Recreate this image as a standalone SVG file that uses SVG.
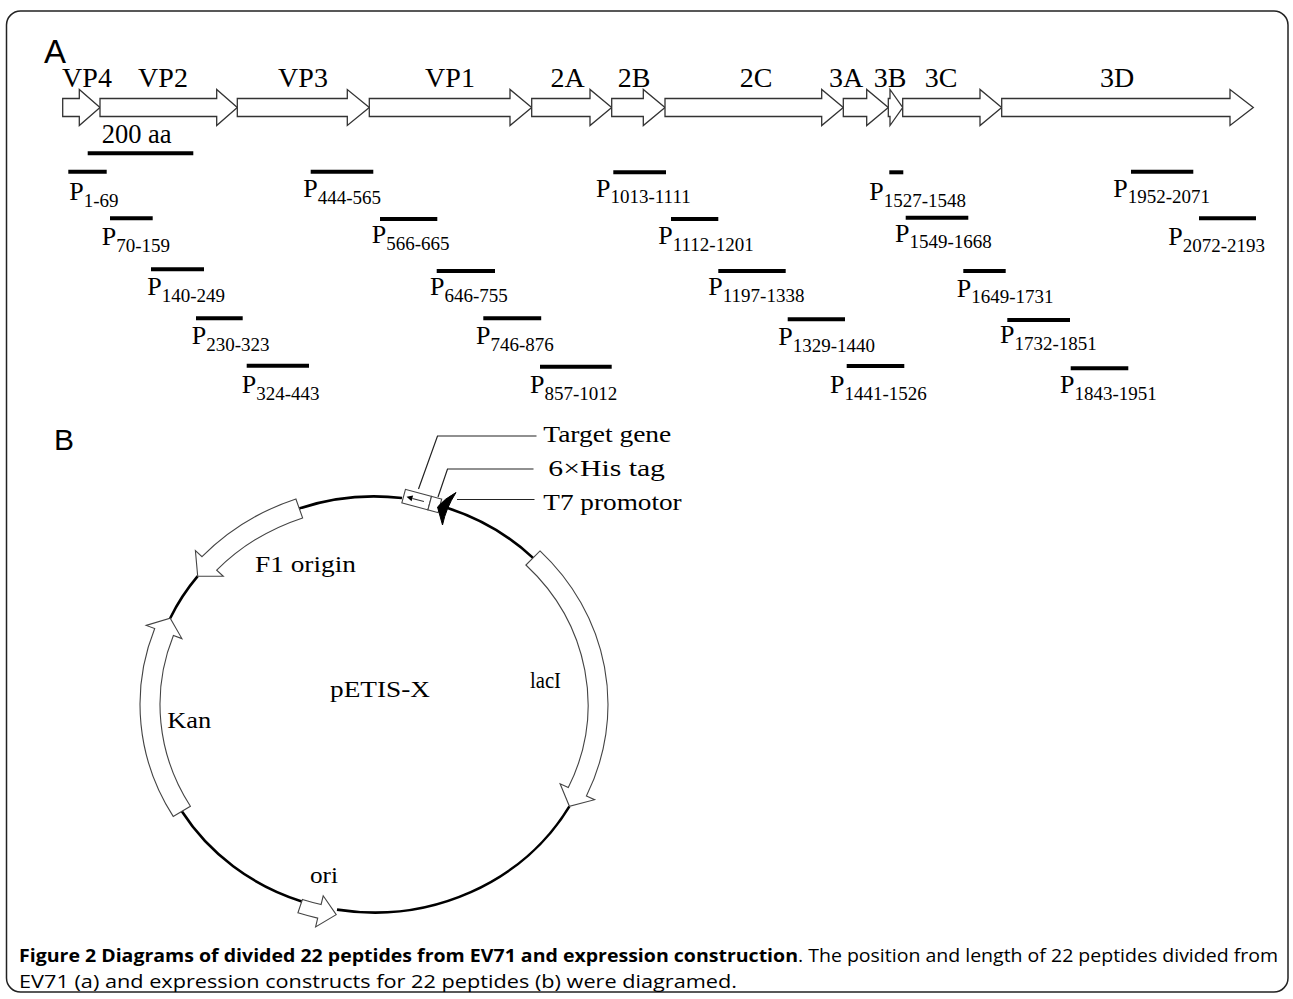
<svg xmlns="http://www.w3.org/2000/svg" width="1293" height="999" viewBox="0 0 1293 999">
<style>
.bg{fill:#fff}
.frame{fill:none;stroke:#222;stroke-width:1.5}
.gene{fill:#fff;stroke:#333;stroke-width:1.3;stroke-linejoin:miter}
.feat{fill:#fff;stroke:#444;stroke-width:1.1;stroke-linejoin:miter}
.bb{fill:none;stroke:#000;stroke-width:2.6}
.pep{stroke:#000;stroke-width:4}
.lead{fill:none;stroke:#222;stroke-width:1.2}
.t{font-family:"Liberation Serif","Times New Roman",serif;fill:#000}
.glbl{font-size:28px;text-anchor:middle}
.pl{font-size:26px}
.sub{font-size:19px}
.ml{font-size:24px}
.panel{font-family:"Liberation Sans",Arial,sans-serif;fill:#000}
.cap{font-family:"Open Sans","Liberation Sans",sans-serif;font-size:17.5px;fill:#000}
</style>
<rect class="bg" x="0" y="0" width="1293" height="999"/>
<rect class="frame" x="6.5" y="11" width="1281.5" height="981" rx="14"/>

<text class="panel" x="44" y="63" font-size="33">A</text>
<text class="panel" x="54" y="450" font-size="30">B</text>

<!-- Panel A: polyprotein -->
<g id="gene-VP4"><polygon class="gene" points="62.7,98.5 79.3,98.5 79.3,89.5 100,107.5 79.3,125.5 79.3,116.5 62.7,116.5"/><text class="t glbl" x="87" y="87">VP4</text></g>
<g id="gene-VP2"><polygon class="gene" points="100,98.5 216.7,98.5 216.7,89.5 237.3,107.5 216.7,125.5 216.7,116.5 100,116.5"/><text class="t glbl" x="163" y="87">VP2</text></g>
<g id="gene-VP3"><polygon class="gene" points="237.3,98.5 347.3,98.5 347.3,89.5 369.3,107.5 347.3,125.5 347.3,116.5 237.3,116.5"/><text class="t glbl" x="303" y="87">VP3</text></g>
<g id="gene-VP1"><polygon class="gene" points="369.3,98.5 510,98.5 510,89.5 531.7,107.5 510,125.5 510,116.5 369.3,116.5"/><text class="t glbl" x="450" y="87">VP1</text></g>
<g id="gene-2A"><polygon class="gene" points="531.7,98.5 590,98.5 590,89.5 611.7,107.5 590,125.5 590,116.5 531.7,116.5"/><text class="t glbl" x="567.5" y="87">2A</text></g>
<g id="gene-2B"><polygon class="gene" points="611.7,98.5 643.3,98.5 643.3,89.5 665,107.5 643.3,125.5 643.3,116.5 611.7,116.5"/><text class="t glbl" x="634" y="87">2B</text></g>
<g id="gene-2C"><polygon class="gene" points="665,98.5 821.7,98.5 821.7,89.5 843.3,107.5 821.7,125.5 821.7,116.5 665,116.5"/><text class="t glbl" x="756" y="87">2C</text></g>
<g id="gene-3A"><polygon class="gene" points="843.3,98.5 866.7,98.5 866.7,89.5 888.3,107.5 866.7,125.5 866.7,116.5 843.3,116.5"/><text class="t glbl" x="846" y="87">3A</text></g>
<g id="gene-3B"><polygon class="gene" points="888.3,98.5 890,98.5 890,89.5 902.7,107.5 890,125.5 890,116.5 888.3,116.5"/><text class="t glbl" x="890" y="87">3B</text></g>
<g id="gene-3C"><polygon class="gene" points="902.7,98.5 980,98.5 980,89.5 1001.7,107.5 980,125.5 980,116.5 902.7,116.5"/><text class="t glbl" x="941" y="87">3C</text></g>
<g id="gene-3D"><polygon class="gene" points="1001.7,98.5 1230,98.5 1230,89.5 1253.3,107.5 1230,125.5 1230,116.5 1001.7,116.5"/><text class="t glbl" x="1117" y="87">3D</text></g>

<g id="scale-bar"><text class="t" x="101.7" y="143.3" font-size="26.5">200 aa</text><line class="pep" x1="87.7" y1="153.3" x2="193.3" y2="153.3"/></g>

<!-- Peptides -->
<g id="pep-1"><line class="pep" x1="68.3" y1="171.7" x2="106.7" y2="171.7"/><text class="t pl" x="69.3" y="200">P<tspan class="sub" dy="6.5">1-69</tspan></text></g>
<g id="pep-2"><line class="pep" x1="110" y1="218.3" x2="152.7" y2="218.3"/><text class="t pl" x="101.7" y="245">P<tspan class="sub" dy="6.5">70-159</tspan></text></g>
<g id="pep-3"><line class="pep" x1="151" y1="269.3" x2="204" y2="269.3"/><text class="t pl" x="147.3" y="295">P<tspan class="sub" dy="6.5">140-249</tspan></text></g>
<g id="pep-4"><line class="pep" x1="196" y1="318.3" x2="242.7" y2="318.3"/><text class="t pl" x="191.7" y="344">P<tspan class="sub" dy="6.5">230-323</tspan></text></g>
<g id="pep-5"><line class="pep" x1="246.7" y1="365.7" x2="309" y2="365.7"/><text class="t pl" x="241.7" y="393.3">P<tspan class="sub" dy="6.5">324-443</tspan></text></g>
<g id="pep-6"><line class="pep" x1="310.7" y1="171.7" x2="373.3" y2="171.7"/><text class="t pl" x="303.3" y="197.3">P<tspan class="sub" dy="6.5">444-565</tspan></text></g>
<g id="pep-7"><line class="pep" x1="380" y1="219" x2="437.3" y2="219"/><text class="t pl" x="371.7" y="243.3">P<tspan class="sub" dy="6.5">566-665</tspan></text></g>
<g id="pep-8"><line class="pep" x1="436.7" y1="271" x2="495" y2="271"/><text class="t pl" x="430" y="295">P<tspan class="sub" dy="6.5">646-755</tspan></text></g>
<g id="pep-9"><line class="pep" x1="483.3" y1="318.3" x2="541.2" y2="318.3"/><text class="t pl" x="476" y="344">P<tspan class="sub" dy="6.5">746-876</tspan></text></g>
<g id="pep-10"><line class="pep" x1="540" y1="366.7" x2="611.7" y2="366.7"/><text class="t pl" x="530" y="393">P<tspan class="sub" dy="6.5">857-1012</tspan></text></g>
<g id="pep-11"><line class="pep" x1="613.3" y1="172.3" x2="666" y2="172.3"/><text class="t pl" x="596" y="196.7">P<tspan class="sub" dy="6.5">1013-1111</tspan></text></g>
<g id="pep-12"><line class="pep" x1="671" y1="219" x2="718.3" y2="219"/><text class="t pl" x="658.3" y="244">P<tspan class="sub" dy="6.5">1112-1201</tspan></text></g>
<g id="pep-13"><line class="pep" x1="718.3" y1="271" x2="785.7" y2="271"/><text class="t pl" x="708.3" y="295">P<tspan class="sub" dy="6.5">1197-1338</tspan></text></g>
<g id="pep-14"><line class="pep" x1="787.7" y1="319.3" x2="845" y2="319.3"/><text class="t pl" x="778.3" y="345">P<tspan class="sub" dy="6.5">1329-1440</tspan></text></g>
<g id="pep-15"><line class="pep" x1="846.7" y1="366" x2="904.3" y2="366"/><text class="t pl" x="830" y="393.3">P<tspan class="sub" dy="6.5">1441-1526</tspan></text></g>
<g id="pep-16"><line class="pep" x1="889.3" y1="172.3" x2="903.3" y2="172.3"/><text class="t pl" x="869.3" y="200">P<tspan class="sub" dy="6.5">1527-1548</tspan></text></g>
<g id="pep-17"><line class="pep" x1="905.7" y1="217.7" x2="968.3" y2="217.7"/><text class="t pl" x="895" y="241.7">P<tspan class="sub" dy="6.5">1549-1668</tspan></text></g>
<g id="pep-18"><line class="pep" x1="963.3" y1="271" x2="1005.7" y2="271"/><text class="t pl" x="956.7" y="296.7">P<tspan class="sub" dy="6.5">1649-1731</tspan></text></g>
<g id="pep-19"><line class="pep" x1="1007.3" y1="320" x2="1070" y2="320"/><text class="t pl" x="1000" y="343">P<tspan class="sub" dy="6.5">1732-1851</tspan></text></g>
<g id="pep-20"><line class="pep" x1="1070.7" y1="368.3" x2="1128.3" y2="368.3"/><text class="t pl" x="1060" y="393.3">P<tspan class="sub" dy="6.5">1843-1951</tspan></text></g>
<g id="pep-21"><line class="pep" x1="1131" y1="171.7" x2="1193.3" y2="171.7"/><text class="t pl" x="1113.3" y="196.7">P<tspan class="sub" dy="6.5">1952-2071</tspan></text></g>
<g id="pep-22"><line class="pep" x1="1199" y1="218.3" x2="1256" y2="218.3"/><text class="t pl" x="1168.3" y="245">P<tspan class="sub" dy="6.5">2072-2193</tspan></text></g>

<!-- Panel B: plasmid -->
<g id="backbone">
<path class="bb" d="M299.2,508.4 A224,208 0 0 1 402,498"/>
<path class="bb" d="M446.9,507.8 A224,208 0 0 1 533,557.9"/>
<path class="bb" d="M569.4,806.3 A224,208 0 0 1 337,909.6"/>
<path class="bb" d="M301.8,901.4 A224,208 0 0 1 181.8,811.3"/>
<path class="bb" d="M170.2,618.2 A224,208 0 0 1 197.7,576.2"/>
</g>
<g id="F1-origin"><path class="feat" d="M295.9,499 A234,218 0 0 0 202,556.7 L195.4,550.6 L197.7,576.2 L223.3,576.3 L216.7,570.2 A214,198 0 0 1 302.6,517.9 Z"/><text class="t ml" x="255" y="572.3" textLength="101" lengthAdjust="spacingAndGlyphs">F1 origin</text></g>
<g id="Kan"><path class="feat" d="M173.2,816.4 A234,218 0 0 1 154.7,628.5 L146.2,625.4 L170.2,618.2 L181.9,638.6 L173.4,635.5 A214,198 0 0 0 190.4,806.2 Z"/><text class="t ml" x="167.3" y="728.3" textLength="44" lengthAdjust="spacingAndGlyphs">Kan</text></g>
<g id="lacI"><path class="feat" d="M540,550.9 A234,218 0 0 1 586.4,796 L594.6,799.7 L569.4,806.3 L560.1,783.8 L568.3,787.6 A214,198 0 0 0 525.9,565 Z"/><text class="t ml" x="530" y="688.3" textLength="31" lengthAdjust="spacingAndGlyphs">lacI</text></g>
<g id="ori"><path class="feat" d="M297.9,912.8 A236,220 0 0 0 317.7,918.1 L315.6,926.9 L336.2,914.6 L323.2,895.8 L321.1,904.5 A222,206 0 0 1 302.4,899.5 Z"/><text class="t ml" x="310" y="882.7" textLength="28" lengthAdjust="spacingAndGlyphs">ori</text></g>
<g id="pETIS-X"><text class="t ml" x="330" y="697.3" textLength="100" lengthAdjust="spacingAndGlyphs">pETIS-X</text></g>
<g id="target-gene" transform="rotate(15 422 501)">
<rect class="feat" x="403" y="494" width="27" height="14"/>
<polygon points="406,501 412,498 412,504" fill="#000"/>
<line x1="412" y1="501" x2="424" y2="501" stroke="#333" stroke-width="1"/>
</g>
<g id="his-tag" transform="rotate(15 422 501)"><rect class="feat" x="430" y="494" width="10.5" height="14"/></g>
<g id="T7-promotor"><path d="M456,492.5 Q444,499 437.5,507 L442.5,525 Q446,508 456,492.5 Z" fill="#000" stroke="#000" stroke-width="1"/></g>
<g id="labels-B">
<text class="t ml" x="543.3" y="442" textLength="128" lengthAdjust="spacingAndGlyphs">Target gene</text>
<text class="t ml" x="548.3" y="476" textLength="116.7" lengthAdjust="spacingAndGlyphs">6×His tag</text>
<text class="t ml" x="543.3" y="509.5" textLength="138.4" lengthAdjust="spacingAndGlyphs">T7 promotor</text>
</g>
<g id="connectors">
<path class="lead" d="M418.5,489 L437.5,436 L536.5,436"/>
<path class="lead" d="M438,497 L447.5,469 L533.5,469"/>
<path class="lead" d="M457,499.5 L534.5,499.5"/>
</g>

<!-- Caption -->
<g id="caption">
<text class="cap" x="19" y="962" font-weight="bold" textLength="779" lengthAdjust="spacingAndGlyphs">Figure 2 Diagrams of divided 22 peptides from EV71 and expression construction</text>
<text class="cap" x="798" y="962" textLength="480" lengthAdjust="spacingAndGlyphs">. The position and length of 22 peptides divided from</text>
<text class="cap" x="19" y="988" textLength="718" lengthAdjust="spacingAndGlyphs">EV71 (a) and expression constructs for 22 peptides (b) were diagramed.</text>
</g>
</svg>
